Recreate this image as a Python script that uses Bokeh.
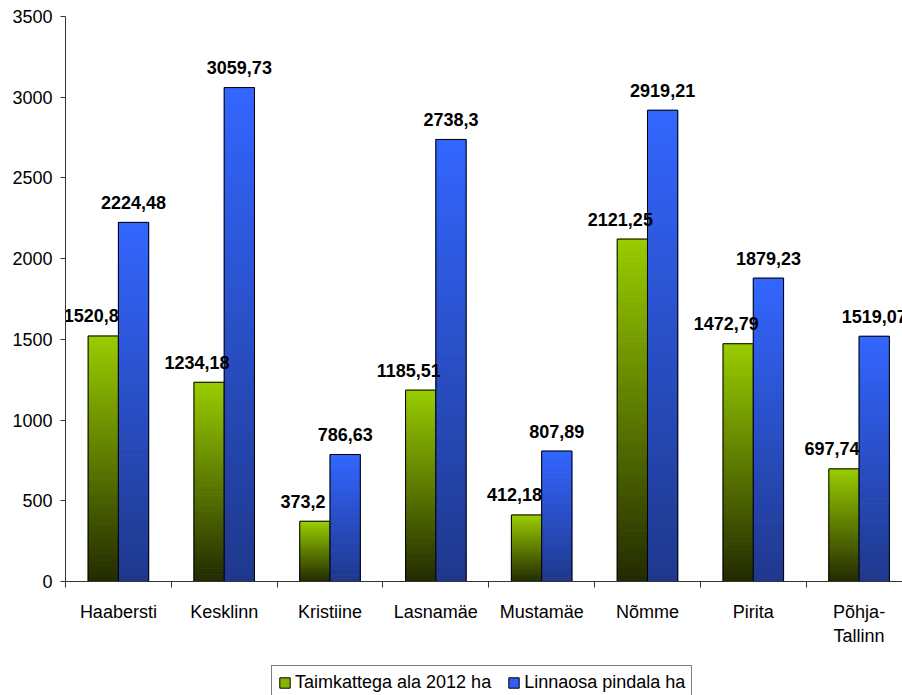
import numpy as np
from bokeh.plotting import figure
from bokeh.layouts import column
from bokeh.models import Range1d, FixedTicker, Legend, LegendItem, ColumnDataSource
from bokeh.core.properties import value
from bokeh.embed import file_html
from bokeh.resources import INLINE

categories = ["Haabersti", "Kesklinn", "Kristiine", "Lasnamäe", "Mustamäe", "Nõmme", "Pirita", "Põhja-\nTallinn"]
green_vals = [1520.8, 1234.18, 373.2, 1185.51, 412.18, 2121.25, 1472.79, 697.74]
blue_vals = [2224.48, 3059.73, 786.63, 2738.3, 807.89, 2919.21, 1879.23, 1519.07]
green_labels = ["1520,8", "1234,18", "373,2", "1185,51", "412,18", "2121,25", "1472,79", "697,74"]
blue_labels = ["2224,48", "3059,73", "786,63", "2738,3", "807,89", "2919,21", "1879,23", "1519,07"]
series_names = ["Taimkattega ala 2012 ha", "Linnaosa pindala ha"]
y_ticks = [0, 500, 1000, 1500, 2000, 2500, 3000, 3500]

FONT = "Liberation Sans"
BW = 0.286
OFF = 0.143
N = 60

p = figure(width=902, height=655, output_backend="svg", toolbar_location=None,
           x_range=Range1d(0, 7.91), y_range=Range1d(0, 3500),
           min_border_left=65, min_border_right=0, min_border_top=16, min_border_bottom=74)
p.outline_line_color = None
p.xgrid.visible = False
p.ygrid.visible = False
p.background_fill_color = "white"


def hex_mix(c0, c1, t):
    return "#%02x%02x%02x" % tuple(int(round(a + (b - a) * t)) for a, b in zip(c0, c1))


green_bot, green_top = (34, 42, 0), (153, 204, 0)
blue_bot, blue_top = (31, 56, 140), (51, 102, 255)

xc = np.arange(len(categories)) + 0.5


def gradient_bars(xs, vals, c_bot, c_top):
    xs_l, bots, tops, cols = [], [], [], []
    for x, v in zip(xs, vals):
        for i in range(N):
            xs_l.append(x)
            bots.append(v * i / N)
            tops.append(v * (i + 1) / N)
            cols.append(hex_mix(c_bot, c_top, (i + 0.5) / N))
    src = ColumnDataSource(dict(x=xs_l, bottom=bots, top=tops, c=cols))
    p.vbar(x="x", bottom="bottom", top="top", width=BW, source=src,
           fill_color="c", line_color="c", line_width=1)
    p.vbar(x=list(xs), top=list(vals), width=BW, fill_alpha=0,
           line_color="black", line_width=1)


gradient_bars(xc - OFF, green_vals, green_bot, green_top)
gradient_bars(xc + OFF, blue_vals, blue_bot, blue_top)

# data labels
p.text(x=list(xc + OFF), y=blue_vals, text=blue_labels, text_align="center",
       text_baseline="middle", y_offset=-20, text_font=value(FONT),
       text_font_size="18px", text_font_style="bold", text_color="black")
p.text(x=list(xc - OFF), y=green_vals, text=green_labels, text_align="center",
       text_baseline="middle", y_offset=-20, x_offset=-12, text_font=value(FONT),
       text_font_size="18px", text_font_style="bold", text_color="black")

# axes
p.yaxis.ticker = FixedTicker(ticks=y_ticks)
p.yaxis.major_tick_out = 5
p.yaxis.major_tick_in = 0
p.yaxis.minor_tick_line_color = None
p.yaxis.axis_line_color = "#333333"
p.yaxis.major_tick_line_color = "#333333"
p.yaxis.major_label_text_font = FONT
p.yaxis.major_label_text_font_size = "18px"
p.yaxis.major_label_text_color = "black"
p.yaxis.major_label_standoff = 8

p.xaxis.ticker = FixedTicker(ticks=list(xc), minor_ticks=list(range(len(categories) + 1)))
p.xaxis.major_label_overrides = {float(x): c for x, c in zip(xc, categories)}
p.xaxis.major_tick_out = 0
p.xaxis.major_tick_in = 0
p.xaxis.minor_tick_out = 6
p.xaxis.minor_tick_in = 0
p.xaxis.minor_tick_line_color = "#333333"
p.xaxis.axis_line_color = "#333333"
p.xaxis.major_label_text_font = FONT
p.xaxis.major_label_text_font_size = "18px"
p.xaxis.major_label_text_color = "black"
p.xaxis.major_label_standoff = 14

# legend in a strip below the chart
q = figure(width=902, height=40, output_backend="svg", toolbar_location=None,
           x_range=Range1d(0, 1), y_range=Range1d(0, 1),
           x_axis_type=None, y_axis_type=None,
           min_border_left=65, min_border_right=0, min_border_top=0, min_border_bottom=0)
q.outline_line_color = None
q.border_fill_color = "white"
q.background_fill_color = "white"
r1 = q.vbar(x=[5], top=[1], width=0.1, fill_color=hex_mix(green_bot, green_top, 0.85), line_color="black")
r2 = q.vbar(x=[5], top=[1], width=0.1, fill_color=hex_mix(blue_bot, blue_top, 0.85), line_color="black")
legend = Legend(items=[LegendItem(label=series_names[0], renderers=[r1]),
                       LegendItem(label=series_names[1], renderers=[r2])],
                orientation="horizontal", location=(206, -5))
legend.label_text_font = FONT
legend.label_text_font_size = "18px"
legend.label_text_color = "black"
legend.glyph_width = 13
legend.glyph_height = 13
legend.label_standoff = 4
legend.spacing = 16
legend.padding = 6
legend.margin = 0
legend.border_line_color = "black"
legend.border_line_width = 1
legend.background_fill_color = "white"
legend.background_fill_alpha = 1
q.add_layout(legend, "center")

layout = column(p, q, spacing=0)
open("out.html", "w").write(file_html(layout, INLINE))
